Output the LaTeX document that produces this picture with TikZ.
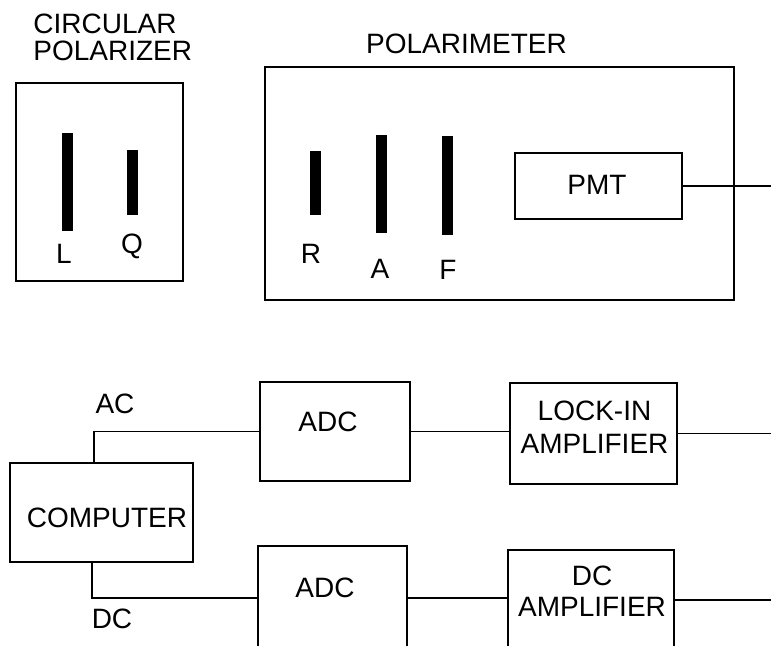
\documentclass[tikz,border=0pt]{standalone}
\usepackage{fontspec}
\setmainfont{Liberation Sans}
\begin{document}
\begin{tikzpicture}[x=0.5pt,y=-0.5pt,
  box/.style={draw,line width=0.9pt,inner sep=0pt},
  bar/.style={fill=black,inner sep=0pt,minimum width=5.5pt},
  wire/.style={line width=0.7pt},
  txt/.style={inner sep=0pt,font=\fontsize{14}{16.5}\selectfont,align=center}]
  \useasboundingbox (0,0) rectangle (771,645);
  \coordinate (edge) at (771,0);

  \node[txt,align=left,anchor=west,font=\fontsize{14}{13.5}\selectfont] (cpoltitle) at (33,37.5)
    {CIRCULAR\\POLARIZER};
  \node[box,minimum width=83.5pt,minimum height=99pt] (cpol) at (99.5,182) {};
  \node[bar,minimum height=49pt] (lbar) at (67,182) {};
  \node[bar,minimum height=32.5pt] (qbar) at (132.5,182.5) {};
  \node[txt] (ltxt) at (64,254) {L};
  \node[txt] (qtxt) at (132,246) {Q};

  \node[txt] (polmtitle) at (466.5,44) {POLARIMETER};
  \node[box,minimum width=234.5pt,minimum height=116.5pt] (polm) at (499.5,183.5) {};
  \node[bar,minimum height=32pt] (rbar) at (315.5,183) {};
  \node[bar,minimum height=49pt] (abar) at (381.5,184) {};
  \node[bar,minimum height=49.5pt] (fbar) at (447,185.5) {};
  \node[txt] (rtxt) at (311,254) {R};
  \node[txt] (atxt) at (380,269) {A};
  \node[txt] (ftxt) at (448,270) {F};
  \node[box,minimum width=83.5pt,minimum height=33pt] (pmt) at (598.5,186) {};
  \node[txt] (pmttxt) at (597,184.5) {PMT};

  \node[box,minimum width=91.5pt,minimum height=49.5pt] (comp) at (101.5,512.5) {};
  \node[txt] (comptxt) at (107,518) {COMPUTER};
  \node[box,minimum width=75pt,minimum height=49.5pt] (adc1) at (335,431.5) {};
  \node[txt] (adc1txt) at (328,422) {ADC};
  \node[box,minimum width=83.5pt,minimum height=50.5pt] (lockin) at (593.5,433.5) {};
  \node[txt,font=\fontsize{14}{16.25}\selectfont] (lockintxt) at (594.5,427) {LOCK-IN\\AMPLIFIER};
  \node[box,minimum width=74.5pt,minimum height=52pt] (adc2) at (332.5,598) {};
  \node[txt] (adc2txt) at (325,587.5) {ADC};
  \node[box,minimum width=83pt,minimum height=50pt] (dcamp) at (591,600) {};
  \node[txt,font=\fontsize{14}{15.75}\selectfont] (dcamptxt) at (592,591) {DC\\AMPLIFIER};
  \node[txt] (actxt) at (115,404) {AC};
  \node[txt] (dctxt) at (112,619) {DC};

  \draw[wire] (pmt.east) -- (pmt.east -| edge);
  \draw[wire] ([xshift=42.5pt]comp.north west) |- (adc1.west);
  \draw[wire] ([xshift=41.5pt]comp.south west) |- (adc2.west);
  \draw[wire] (adc1.east) -- (adc1.east -| lockin.west);
  \draw[wire] (lockin.east) -- (lockin.east -| edge);
  \draw[wire] (adc2.east) -- (adc2.east -| dcamp.west);
  \draw[wire] (dcamp.east) -- (dcamp.east -| edge);
\end{tikzpicture}
\end{document}
